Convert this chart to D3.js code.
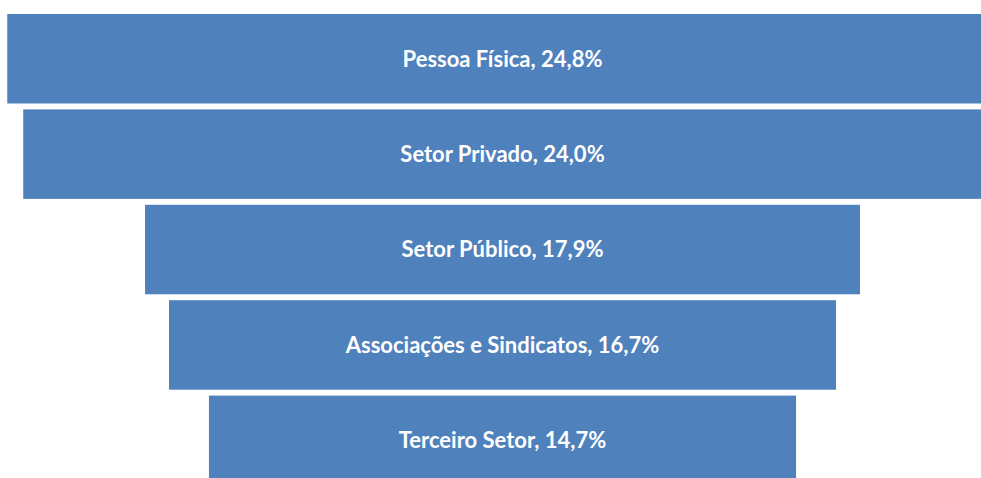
<!DOCTYPE html>
<html>
<head>
<meta charset="utf-8">
<script src="https://cdn.jsdelivr.net/npm/d3@7"></script>
<style>
  html, body { margin: 0; padding: 0; background: #fff; overflow: hidden; }
</style>
</head>
<body>
<div id="canvas"></div>
<script>
// data
const categories = ['Pessoa Física', 'Setor Privado', 'Setor Público', 'Associações e Sindicatos', 'Terceiro Setor'];
const values = [24.8, 24.0, 17.9, 16.7, 14.7];
const labels = ['24,8%', '24,0%', '17,9%', '16,7%', '14,7%'];

const width = 981, height = 478;
const centre = 502.5;

const svg = d3.select('#canvas')
    .append('svg')
    .attr('width', width)
    .attr('height', height);

// width of a bar in px for a given percent
const x = d3.scaleLinear()
    .domain([0, 25])
    .range([0, 998.5]);

//funnel rows, bottom one is cut by the frame
const y = d3.scaleBand()
    .domain(categories)
    .range([14, 485.1])
    .paddingInner(0.062)
    .paddingOuter(0);

const rows = categories.map((c, i) => ({cat: c, value: values[i], label: labels[i]}));

svg.selectAll('rect')
    .data(rows)
    .enter()
    .append('rect')
    .attr('x', d => centre - x(d.value) / 2)
    .attr('y', d => y(d.cat))
    .attr('width', d => x(d.value))
    .attr('height', y.bandwidth())
    .style('fill', '#4F81BD');

svg.selectAll('text')
    .data(rows)
    .enter()
    .append('text')
    .attr('x', centre)
    .attr('y', d => y(d.cat) + y.bandwidth() / 2)
    .attr('dy', '0.36em')
    .attr('text-anchor', 'middle')
    .style('font-family', 'Lato, sans-serif')
    .style('font-weight', 'bold')
    .style('font-size', '22px')
    .style('fill', '#fff')
    .text(d => `${d.cat}, ${d.label}`);
</script>
</body>
</html>
